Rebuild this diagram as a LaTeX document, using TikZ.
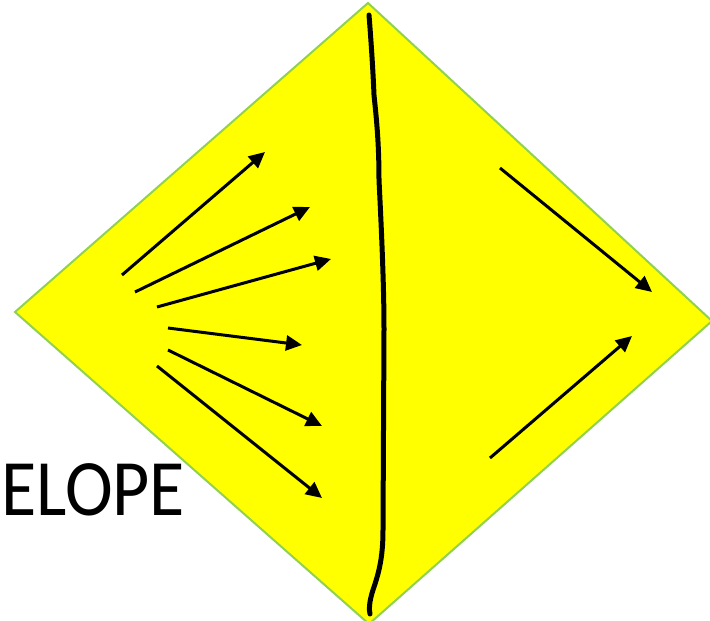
\documentclass[tikz,border=0pt]{standalone}
\usepackage{fontspec}
\setmainfont{Carlito}
\usetikzlibrary{arrows.meta}
\definecolor{diamyellow}{HTML}{FFFF00}
\definecolor{diamgreen}{HTML}{92D050}
\tikzset{
  ray/.style={line width=3pt,-{Triangle[length=16pt,width=15pt]}},
  divider/.style={line width=5pt,line cap=round,black},
}
\begin{document}
\begin{tikzpicture}[x=1pt,y=-1pt]
\useasboundingbox (0,0) rectangle (710,621);
% diamond
\coordinate (T) at (368,3);
\coordinate (L) at (15,312);
\coordinate (B) at (369,624);
\coordinate (R) at (712,321);
\fill[diamyellow] (T) -- (L) -- (B) -- (R) -- cycle;
\draw[diamgreen,line width=2pt,line join=miter] (R) -- (T) -- (L) -- (B) -- (R);
% wavy divider
\draw[divider] (369,15) .. controls (371,40) and (373,70) .. (374,95)
  .. controls (376,115) and (379,140) .. (379,180)
  .. controls (382,240) and (384,290) .. (384,330)
  -- (383,530)
  .. controls (383,560) and (378,575) .. (373,590)
  .. controls (369,602) and (369,610) .. (370,614);
% left rays
\coordinate (a1) at (122,275); \coordinate (b1) at (265,152);
\coordinate (a2) at (135,292); \coordinate (b2) at (310,207);
\coordinate (a3) at (157,307); \coordinate (b3) at (331,259);
\coordinate (a4) at (168,328); \coordinate (b4) at (302,345);
\coordinate (a5) at (168,350); \coordinate (b5) at (322,426);
\coordinate (a6) at (157,366); \coordinate (b6) at (322,498);
\foreach \i in {1,...,6} \draw[ray] (a\i) -- (b\i);
% right rays
\coordinate (c1) at (500,168); \coordinate (d1) at (652,292);
\coordinate (c2) at (490,458); \coordinate (d2) at (632,336);
\draw[ray] (c1) -- (d1);
\draw[ray] (c2) -- (d2);
% label
\node[anchor=base west,inner sep=0pt,font=\fontsize{80}{86}\selectfont] (lbl) at (1,515) {\scalebox{0.9}[1]{ELOPE}};
\end{tikzpicture}
\end{document}
